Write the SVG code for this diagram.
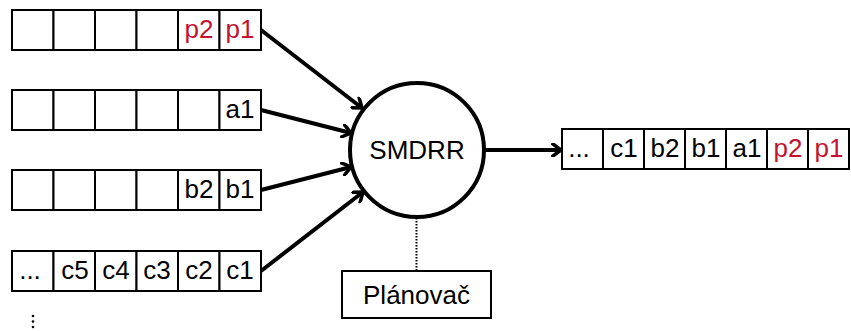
<svg xmlns="http://www.w3.org/2000/svg" width="851" height="331" viewBox="0 0 851 331">
<style>
.cell{fill:#fff;stroke:#000;stroke-width:2}
.t{font-family:"Liberation Sans",Arial,sans-serif;font-size:26px;text-anchor:middle;fill:#000}
.r{fill:#c4122f}
.conn{stroke:#000;stroke-width:4;fill:none}
</style>
<defs>
<marker id="ah" markerWidth="14" markerHeight="14" refX="10" refY="7" orient="auto" markerUnits="userSpaceOnUse">
<path d="M2,1 L10,7 L2,13" fill="none" stroke="#000" stroke-width="3.5" stroke-linecap="square"/>
</marker>
</defs>
<g id="queue-p">
<rect class="cell" x="12" y="10" width="41.5" height="40"/>
<rect class="cell" x="53.5" y="10" width="41.5" height="40"/>
<rect class="cell" x="95" y="10" width="41.5" height="40"/>
<rect class="cell" x="136.5" y="10" width="41.5" height="40"/>
<rect class="cell" x="178" y="10" width="41.5" height="40"/>
<rect class="cell" x="219.5" y="10" width="41.5" height="40"/>
<text class="t r" x="199" y="38">p2</text>
<text class="t r" x="240" y="38">p1</text>
</g>
<g id="queue-a">
<rect class="cell" x="12" y="90" width="41.5" height="40"/>
<rect class="cell" x="53.5" y="90" width="41.5" height="40"/>
<rect class="cell" x="95" y="90" width="41.5" height="40"/>
<rect class="cell" x="136.5" y="90" width="41.5" height="40"/>
<rect class="cell" x="178" y="90" width="41.5" height="40"/>
<rect class="cell" x="219.5" y="90" width="41.5" height="40"/>
<text class="t" x="240" y="118">a1</text>
</g>
<g id="queue-b">
<rect class="cell" x="12" y="170" width="41.5" height="40"/>
<rect class="cell" x="53.5" y="170" width="41.5" height="40"/>
<rect class="cell" x="95" y="170" width="41.5" height="40"/>
<rect class="cell" x="136.5" y="170" width="41.5" height="40"/>
<rect class="cell" x="178" y="170" width="41.5" height="40"/>
<rect class="cell" x="219.5" y="170" width="41.5" height="40"/>
<text class="t" x="199" y="198">b2</text>
<text class="t" x="240" y="198">b1</text>
</g>
<g id="queue-c">
<rect class="cell" x="12" y="251" width="41.5" height="40"/>
<rect class="cell" x="53.5" y="251" width="41.5" height="40"/>
<rect class="cell" x="95" y="251" width="41.5" height="40"/>
<rect class="cell" x="136.5" y="251" width="41.5" height="40"/>
<rect class="cell" x="178" y="251" width="41.5" height="40"/>
<rect class="cell" x="219.5" y="251" width="41.5" height="40"/>
<text class="t" x="30" y="279">...</text>
<text class="t" x="75" y="279">c5</text>
<text class="t" x="116" y="279">c4</text>
<text class="t" x="157" y="279">c3</text>
<text class="t" x="199" y="279">c2</text>
<text class="t" x="240" y="279">c1</text>
</g>
<g id="more">
<circle cx="33" cy="316" r="1.3"/>
<circle cx="33" cy="321.5" r="1.3"/>
<circle cx="33" cy="327" r="1.3"/>
</g>
<g id="connectors">
<line class="conn" x1="261" y1="30" x2="362" y2="108" marker-end="url(#ah)"/>
<line class="conn" x1="261" y1="110" x2="351" y2="133" marker-end="url(#ah)"/>
<line class="conn" x1="261" y1="190" x2="351" y2="167" marker-end="url(#ah)"/>
<line class="conn" x1="261" y1="271" x2="363" y2="192" marker-end="url(#ah)"/>
<line class="conn" x1="485" y1="150" x2="561" y2="150" marker-end="url(#ah)"/>
<line x1="416.5" y1="218" x2="416.5" y2="271" stroke="#000" stroke-width="2" stroke-dasharray="1.5,1.5"/>
</g>
<g id="smdrr">
<circle cx="417" cy="150" r="67" fill="#fff" stroke="#000" stroke-width="4"/>
<text class="t" x="417" y="159" font-size="27">SMDRR</text>
</g>
<g id="planovac">
<rect class="cell" x="342" y="271" width="149" height="47"/>
<text class="t" x="416.5" y="304" font-size="27">Plánovač</text>
</g>
<g id="output">
<rect class="cell" x="562" y="129" width="41" height="40"/>
<rect class="cell" x="603" y="129" width="41" height="40"/>
<rect class="cell" x="644" y="129" width="41" height="40"/>
<rect class="cell" x="685" y="129" width="41" height="40"/>
<rect class="cell" x="726" y="129" width="41" height="40"/>
<rect class="cell" x="767" y="129" width="41" height="40"/>
<rect class="cell" x="808" y="129" width="41" height="40"/>
<text class="t" x="579" y="157">...</text>
<text class="t" x="624" y="157">c1</text>
<text class="t" x="665" y="157">b2</text>
<text class="t" x="706" y="157">b1</text>
<text class="t" x="747" y="157">a1</text>
<text class="t r" x="788" y="157">p2</text>
<text class="t r" x="829" y="157">p1</text>
</g>
</svg>
